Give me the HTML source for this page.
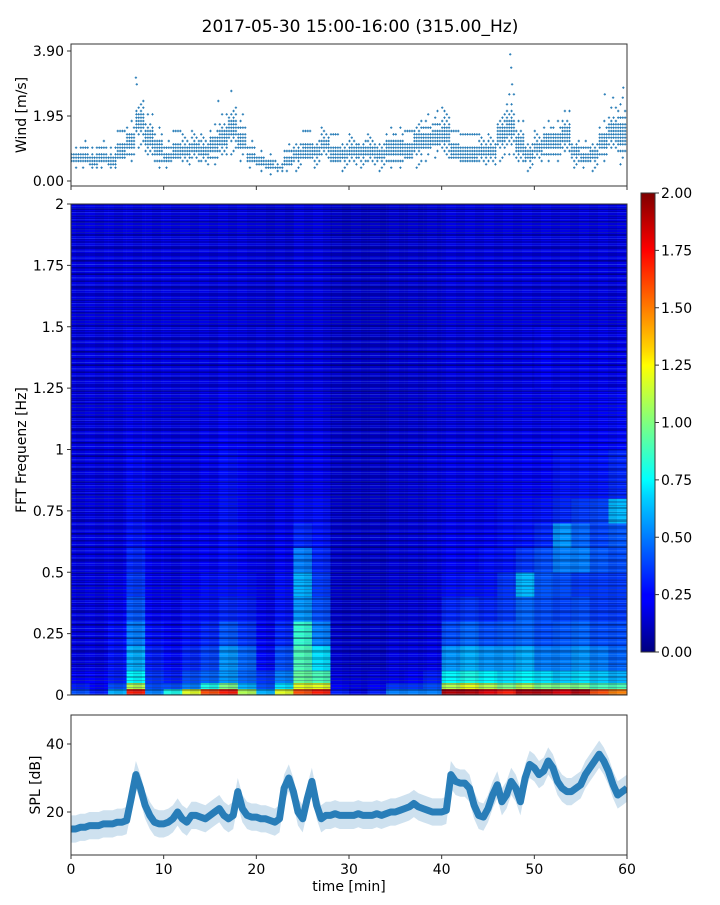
<!DOCTYPE html>
<html><head><meta charset="utf-8"><style>
html,body{margin:0;padding:0;background:#fff;}
svg text{font-family:"DejaVu Sans","Liberation Sans",sans-serif;fill:#000;}
</style></head><body>
<svg id="fig" width="720" height="900" xmlns="http://www.w3.org/2000/svg">
<defs>
<pattern id="streaks" width="556" height="13" patternUnits="userSpaceOnUse">
<rect x="0" y="0" width="556" height="2" fill="rgba(0,0,40,0.30)"/>
<rect x="0" y="4" width="556" height="1" fill="rgba(140,200,255,0.18)"/>
<rect x="0" y="7" width="556" height="2" fill="rgba(0,0,60,0.22)"/>
<rect x="0" y="11" width="556" height="1" fill="rgba(120,200,255,0.14)"/>
</pattern>
<pattern id="streaks2" width="556" height="7" patternUnits="userSpaceOnUse">
<rect x="0" y="1" width="556" height="1" fill="rgba(0,0,50,0.22)"/>
<rect x="0" y="5" width="556" height="1" fill="rgba(80,160,255,0.12)"/>
</pattern>
<pattern id="cols" width="19" height="491" patternUnits="userSpaceOnUse">
<rect x="0" y="0" width="9" height="491" fill="rgba(0,0,40,0.08)"/>
</pattern>
<linearGradient id="jetgrad" x1="0" y1="1" x2="0" y2="0">
<stop offset="0" stop-color="#00007f"/><stop offset="0.11" stop-color="#0000ff"/>
<stop offset="0.125" stop-color="#0000ff"/><stop offset="0.34" stop-color="#00d4ff"/>
<stop offset="0.375" stop-color="#0ff"/><stop offset="0.5" stop-color="#7fff7f"/>
<stop offset="0.625" stop-color="#ff0"/><stop offset="0.66" stop-color="#ffd400"/>
<stop offset="0.875" stop-color="#ff0000"/><stop offset="1" stop-color="#7f0000"/>
</linearGradient>
<clipPath id="clipTop"><rect x="71" y="44" width="556" height="142"/></clipPath>
<clipPath id="clipBot"><rect x="71" y="715" width="556" height="140"/></clipPath>
</defs>
<text x="360" y="32" font-size="17" text-anchor="middle">2017-05-30 15:00-16:00 (315.00_Hz)</text>
<g id="topPanel"></g>
<g id="specPanel"></g>
<g id="cbarPanel"></g>
<g id="botPanel"></g>
</svg>
<script>
// ---- data ----
const windMinutes = Array.from({length:60},(_,i)=>i);
const windLo = [0.3,0.3,0.2,0.3,0.2,0.4,0.5,1.0,0.6,0.3,0.3,0.4,0.3,0.4,0.3,0.4,0.6,0.8,0.5,0.3,0.2,0.1,0.1,0.2,0.3,0.4,0.4,0.5,0.3,0.3,0.3,0.4,0.3,0.3,0.3,0.3,0.4,0.4,0.5,0.6,0.5,0.4,0.3,0.3,0.3,0.3,0.6,0.6,0.4,0.3,0.4,0.5,0.5,0.7,0.4,0.3,0.3,0.5,0.8,0.4];
const windHi = [1.0,1.2,1.0,1.2,1.0,1.5,1.8,2.6,2.0,1.6,1.2,1.5,1.5,1.6,1.5,1.7,2.0,2.4,2.0,1.2,0.9,0.8,0.7,1.1,1.3,1.5,1.4,1.7,1.4,1.3,1.5,1.4,1.5,1.3,1.6,1.6,1.5,2.0,2.0,2.1,2.3,1.5,1.4,1.4,1.5,1.5,2.2,2.6,1.8,1.3,1.6,1.8,1.8,2.1,1.4,1.2,1.3,1.8,2.2,2.5];
const windPeakT = [7.0,7.1,17.3,15.9,47.4,47.5,47.6,57.6,59.6,58.5];
const windPeakV = [3.1,2.9,2.7,2.4,3.8,3.4,2.9,2.6,2.8,2.5];
const windTicks = [0.00,1.95,3.90];

const freqEdges = [0,0.025,0.05,0.1,0.2,0.3,0.4,0.5,0.6,0.7,0.8,1.0,1.25,1.5,1.75,2.0];
const timeEdges = Array.from({length:31},(_,i)=>i*2);
const specVals = [
[0.4,0.3,0.6,1.7,0.5,0.8,1.2,1.6,1.7,1.1,0.6,1.2,1.6,1.7,0.3,0.2,0.3,0.5,0.5,0.5,1.9,1.9,1.8,1.7,1.9,1.9,1.8,1.9,1.6,1.5],
[0.3,0.25,0.4,1.1,0.4,0.4,0.5,0.8,1.0,0.6,0.4,0.7,1.2,1.2,0.25,0.2,0.25,0.35,0.35,0.4,1.1,1.2,1.1,1.0,1.1,1.0,1.0,1.0,0.9,0.9],
[0.25,0.25,0.3,0.75,0.35,0.3,0.4,0.45,0.55,0.45,0.35,0.5,0.95,0.9,0.2,0.18,0.2,0.22,0.25,0.3,0.75,0.8,0.75,0.7,0.75,0.7,0.65,0.7,0.65,0.6],
[0.2,0.2,0.28,0.6,0.3,0.26,0.32,0.38,0.55,0.45,0.26,0.4,0.9,0.7,0.17,0.15,0.15,0.2,0.2,0.22,0.55,0.6,0.55,0.55,0.6,0.5,0.5,0.55,0.5,0.45],
[0.2,0.2,0.27,0.5,0.27,0.23,0.28,0.32,0.42,0.35,0.23,0.32,0.85,0.5,0.15,0.15,0.15,0.18,0.18,0.2,0.4,0.45,0.4,0.42,0.45,0.4,0.42,0.45,0.4,0.4],
[0.2,0.2,0.24,0.42,0.24,0.22,0.27,0.28,0.32,0.3,0.22,0.28,0.55,0.4,0.15,0.15,0.15,0.18,0.18,0.2,0.32,0.35,0.32,0.36,0.45,0.4,0.38,0.4,0.36,0.36],
[0.2,0.2,0.23,0.36,0.23,0.2,0.24,0.27,0.28,0.27,0.2,0.27,0.6,0.36,0.15,0.15,0.15,0.18,0.18,0.2,0.27,0.28,0.28,0.35,0.62,0.42,0.4,0.36,0.36,0.36],
[0.2,0.2,0.2,0.32,0.23,0.2,0.23,0.24,0.27,0.24,0.2,0.24,0.5,0.32,0.15,0.15,0.15,0.18,0.18,0.2,0.24,0.24,0.27,0.28,0.35,0.4,0.5,0.5,0.42,0.4],
[0.2,0.2,0.2,0.28,0.23,0.2,0.23,0.23,0.27,0.23,0.2,0.23,0.32,0.28,0.15,0.15,0.15,0.18,0.18,0.2,0.23,0.23,0.23,0.27,0.28,0.32,0.55,0.45,0.38,0.42],
[0.2,0.2,0.2,0.27,0.2,0.2,0.23,0.23,0.28,0.23,0.2,0.23,0.27,0.27,0.15,0.15,0.15,0.18,0.18,0.2,0.23,0.23,0.23,0.27,0.27,0.28,0.32,0.36,0.38,0.62],
[0.2,0.2,0.2,0.26,0.2,0.2,0.2,0.23,0.27,0.23,0.2,0.2,0.23,0.23,0.15,0.15,0.15,0.18,0.18,0.2,0.22,0.22,0.22,0.24,0.24,0.24,0.28,0.28,0.28,0.32],
[0.2,0.2,0.2,0.23,0.2,0.2,0.2,0.22,0.25,0.22,0.2,0.2,0.22,0.22,0.15,0.15,0.15,0.17,0.17,0.19,0.2,0.2,0.2,0.22,0.22,0.22,0.24,0.24,0.24,0.26],
[0.2,0.2,0.2,0.22,0.2,0.2,0.2,0.2,0.22,0.2,0.2,0.2,0.2,0.2,0.15,0.15,0.15,0.17,0.17,0.18,0.2,0.2,0.2,0.2,0.2,0.24,0.22,0.22,0.22,0.22],
[0.2,0.2,0.2,0.2,0.2,0.2,0.2,0.2,0.2,0.2,0.18,0.2,0.2,0.2,0.15,0.15,0.15,0.17,0.17,0.18,0.2,0.2,0.2,0.2,0.2,0.2,0.2,0.2,0.2,0.2],
[0.2,0.2,0.2,0.2,0.2,0.2,0.2,0.2,0.2,0.2,0.18,0.18,0.2,0.2,0.15,0.15,0.15,0.17,0.17,0.18,0.2,0.2,0.2,0.2,0.2,0.2,0.2,0.2,0.2,0.2]
];
const freqTicks = [0,0.25,0.5,0.75,1,1.25,1.5,1.75,2];
const freqTickLabels = ["0","0.25","0.5","0.75","1","1.25","1.5","1.75","2"];
const cbarTicks = [0,0.25,0.5,0.75,1,1.25,1.5,1.75,2];

const splVals = [15,15,15.5,15.5,16,16,16,16.5,16.5,16.5,17,17,17.5,24,31,27,22,19,17,16.5,16.5,17,18,20,18,17,19,19,18.5,18,19,20,21,19,18,19,26,21,19,18.5,18.5,18,18,17.5,17,18,27,30,26,20,18,24,29,22,18,19,19,19.5,19,19,19,19,19.5,19,19,19,19.5,19,19.5,20,20,20.5,21,21.5,22.5,21.5,21,20.5,20,20,20,20.5,31,29,28.5,28.5,27,22,19,18.5,21,25,28,23,25,29,27,23,30,34,33,31,32,35,33,29,27,26,26,27,28,31,33,35,37,35,32,28,25,26,27];
const splTimes = splVals.map((_,i)=>i*0.5);
const timeTicks = [0,10,20,30,40,50,60];
const splTicks = [20,40];

// ---- scales ----
const X0=71, X1=627;
const xs = t => X0 + (t/60)*(X1-X0);
const yWind = v => 181 - v*(130/3.9);
const yFreq = f => 695 - f*(491/2);
const yC = v => 652 - v*(459/2);
const ySpl = v => 812 - (v-20)*3.4;
const NS="http://www.w3.org/2000/svg";
function mk(tag, attrs, parent){const e=document.createElementNS(NS,tag);for(const k in attrs)e.setAttribute(k,attrs[k]);parent.appendChild(e);return e;}
function jet(v){v=Math.max(0,Math.min(1,v/2));const c=x=>Math.round(255*Math.max(0,Math.min(1,1.5-Math.abs(4*v-x))));return `rgb(${c(3)},${c(2)},${c(1)})`;}

// ---- wind panel ----
const topG=document.getElementById('topPanel');
const tg=mk('g',{'clip-path':'url(#clipTop)'},topG);
let dots='';
windMinutes.forEach((m,i)=>{
  const xa=xs(m), xb=xs(m+1);
  let k=0;
  for(let x=xa+0.5;x<xb;x+=2.3){
    for(let v=windLo[i];v<=windHi[i]+1e-6;v+=0.1){
      k++;
      const mid=(windLo[i]+windHi[i])/2, span=(windHi[i]-windLo[i])/2||1;
      const d=Math.abs(v-mid)/span;
      if(d>0.6 && (k%3)!==0) continue;
      if(d>0.3 && (k%2)!==0) continue;
      const y=yWind(v);
      dots+=`M${(x-1.2).toFixed(1)} ${y.toFixed(1)}h2.4M${x.toFixed(1)} ${(y-1.2).toFixed(1)}v2.4`;
    }
  }
});
windPeakT.forEach((t,i)=>{const x=xs(t),y=yWind(windPeakV[i]);dots+=`M${(x-1.2).toFixed(1)} ${y.toFixed(1)}h2.4M${x.toFixed(1)} ${(y-1.2).toFixed(1)}v2.4`;});
const wp=mk('path',{d:dots,stroke:'#1f77b4','stroke-width':'0.9',fill:'none'},tg);


mk('rect',{x:X0,y:44,width:X1-X0,height:142,fill:'none',stroke:'#333','stroke-width':'1'},topG);
windTicks.forEach(v=>{const y=yWind(v);mk('line',{x1:X0-4,x2:X0,y1:y,y2:y,stroke:'#333'},topG);
 const t=mk('text',{x:X0-7,y:y+5,'font-size':'14','text-anchor':'end'},topG);t.textContent=v.toFixed(2);
 
 });
timeTicks.forEach(t=>{mk('line',{x1:xs(t),x2:xs(t),y1:186,y2:190,stroke:'#333'},topG);});
const wl=mk('text',{x:0,y:0,'font-size':'14','text-anchor':'middle',transform:'translate(26,115) rotate(-90)'},topG);wl.textContent='Wind [m/s]';



// ---- spectrogram ----
const specG=document.getElementById('specPanel');
specVals.forEach((row,r)=>{row.forEach((v,c)=>{
  const x=xs(timeEdges[c]), w=xs(timeEdges[c+1])-x, y=yFreq(freqEdges[r+1]), h=yFreq(freqEdges[r])-y;
  const cell=mk('rect',{x:x.toFixed(2),y:y.toFixed(2),width:(w+0.3).toFixed(2),height:(h+0.3).toFixed(2),fill:jet(v)},specG);
  
  
});});
mk('rect',{x:X0,y:204,width:X1-X0,height:491,fill:'url(#streaks)'},specG);
mk('rect',{x:X0,y:204,width:X1-X0,height:491,fill:'url(#streaks2)'},specG);
mk('rect',{x:X0,y:204,width:X1-X0,height:491,fill:'url(#cols)'},specG);
mk('rect',{x:X0,y:204,width:X1-X0,height:491,fill:'none',stroke:'#333'},specG);
freqTicks.forEach((f,i)=>{const y=yFreq(f);mk('line',{x1:X0-4,x2:X0,y1:y,y2:y,stroke:'#333'},specG);
 const t=mk('text',{x:X0-7,y:y+5,'font-size':'14','text-anchor':'end'},specG);t.textContent=freqTickLabels[i];
 
 });
const fl=mk('text',{x:0,y:0,'font-size':'14','text-anchor':'middle',transform:'translate(26,450) rotate(-90)'},specG);fl.textContent='FFT Frequenz [Hz]';



// ---- colorbar ----
const cbG=document.getElementById('cbarPanel');
mk('rect',{x:641,y:193,width:14,height:459,fill:'url(#jetgrad)',stroke:'#333'},cbG);
cbarTicks.forEach(v=>{const y=yC(v);mk('line',{x1:655,x2:659,y1:y,y2:y,stroke:'#333'},cbG);
 const t=mk('text',{x:661,y:y+5,'font-size':'14'},cbG);t.textContent=v.toFixed(2);
 
 });

// ---- SPL ----
const botG=document.getElementById('botPanel');
const bg=mk('g',{'clip-path':'url(#clipBot)'},botG);
let up='',dn='';
splTimes.forEach((t,i)=>{up+=(i?'L':'M')+xs(t).toFixed(1)+' '+ySpl(splVals[i]+4).toFixed(1);});
for(let i=splTimes.length-1;i>=0;i--){dn+='L'+xs(splTimes[i]).toFixed(1)+' '+ySpl(splVals[i]-4).toFixed(1);}
const band=mk('path',{d:up+dn+'Z',fill:'#1f77b4','fill-opacity':'0.22'},bg);


let ln='';splTimes.forEach((t,i)=>{ln+=(i?'L':'M')+xs(t).toFixed(1)+' '+ySpl(splVals[i]).toFixed(1);});
const sl=mk('path',{d:ln,fill:'none',stroke:'#1f77b4','stroke-width':'7','stroke-linejoin':'round','stroke-opacity':'0.95'},bg);


mk('rect',{x:X0,y:715,width:X1-X0,height:140,fill:'none',stroke:'#333'},botG);
splTicks.forEach(v=>{const y=ySpl(v);mk('line',{x1:X0-4,x2:X0,y1:y,y2:y,stroke:'#333'},botG);
 const t=mk('text',{x:X0-7,y:y+5,'font-size':'14','text-anchor':'end'},botG);t.textContent=v;
 
 });
timeTicks.forEach(v=>{const x=xs(v);mk('line',{x1:x,x2:x,y1:855,y2:859,stroke:'#333'},botG);
 const t=mk('text',{x:x,y:874,'font-size':'14','text-anchor':'middle'},botG);t.textContent=v;
 
 });
const sy=mk('text',{x:0,y:0,'font-size':'14','text-anchor':'middle',transform:'translate(40,785) rotate(-90)'},botG);sy.textContent='SPL [dB]';


const tx=mk('text',{x:349,y:891,'font-size':'14','text-anchor':'middle'},botG);tx.textContent='time [min]';


</script>
</body></html>
